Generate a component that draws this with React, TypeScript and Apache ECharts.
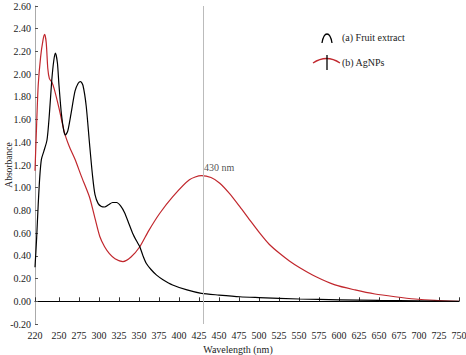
import React, { useEffect, useRef } from "react";
import * as echarts from "echarts";

// Fruit extract (black) : wavelength (nm), absorbance
const fruitWavelengths = [220, 222, 224, 226, 228, 231, 235, 238, 241, 243.5, 245.5, 248, 250, 253, 256, 258, 261, 265, 270, 274, 277, 280, 284, 288, 292, 295, 299, 303, 307, 312, 317, 322, 327, 332, 337, 342, 347, 351, 355, 359, 365, 372, 380, 392, 410, 428, 450, 476, 500, 550, 600, 650, 700, 750];
const fruitAbsorbance = [0.30, 0.55, 0.85, 1.10, 1.25, 1.32, 1.42, 1.65, 1.95, 2.12, 2.185, 2.10, 1.90, 1.65, 1.50, 1.465, 1.50, 1.65, 1.85, 1.92, 1.935, 1.90, 1.72, 1.40, 1.10, 0.94, 0.86, 0.835, 0.83, 0.85, 0.87, 0.87, 0.84, 0.78, 0.69, 0.60, 0.53, 0.48, 0.40, 0.335, 0.28, 0.23, 0.19, 0.144, 0.10, 0.07, 0.055, 0.04, 0.033, 0.02, 0.013, 0.008, 0.004, 0.0];

// AgNPs (red)
const agWavelengths = [220, 222, 224, 227, 230, 232, 234, 236, 238, 241, 244, 250, 257, 263, 270, 278, 288, 295, 301, 307, 313, 320, 330, 340, 351, 362, 376, 392, 413, 428, 440, 451, 463, 476, 488, 501, 513, 526, 538, 551, 570, 595, 620, 645, 670, 695, 720, 750];
const agAbsorbance = [1.15, 1.55, 1.90, 2.15, 2.30, 2.35, 2.28, 2.05, 1.96, 1.93, 1.87, 1.70, 1.48, 1.36, 1.25, 1.10, 0.92, 0.73, 0.57, 0.48, 0.42, 0.375, 0.35, 0.39, 0.48, 0.62, 0.775, 0.92, 1.07, 1.107, 1.09, 1.04, 0.95, 0.833, 0.72, 0.60, 0.50, 0.42, 0.355, 0.295, 0.22, 0.144, 0.10, 0.064, 0.04, 0.02, 0.008, 0.0];

const xTickLabels = [220, 250, 275, 300, 325, 350, 375, 400, 425, 450, 475, 500, 525, 550, 575, 600, 625, 650, 675, 700, 725, 750];
const peakWavelength = 430;
const peakLabel = "430 nm";
const legendNames = ["(a) Fruit extract", "(b) AgNPs"];
const yAxisName = "Absorbance";

const FONT = "'Liberation Serif', 'DejaVu Serif', serif";

export default function App() {
  const ref = useRef<HTMLDivElement>(null);
  useEffect(() => {
    if (!ref.current) return;
    const chart = echarts.init(ref.current, undefined, { renderer: "svg" });
    const zip = (xs: number[], ys: number[]) => xs.map((x, i) => [x, ys[i]]);
    chart.setOption({
      animation: false,
      grid: { left: 35, right: 7, top: 6, bottom: 31, containLabel: false, outerBoundsMode: "none" },
      xAxis: {
        type: "value",
        min: 220,
        max: 750,
        name: "Wavelength (nm)",
        nameLocation: "middle",
        nameGap: 17,
        nameTextStyle: { fontFamily: FONT, fontSize: 10, color: "#222", padding: [0, 18, 0, 0] },
        axisLine: { lineStyle: { color: "#000", width: 1 } },
        axisTick: { inside: true, length: 4, lineStyle: { color: "#333" }, customValues: xTickLabels },
        axisLabel: { fontFamily: FONT, fontSize: 10, color: "#222", margin: 6, customValues: xTickLabels },
        splitLine: { show: false },
      },
      yAxis: {
        type: "value",
        min: -0.2,
        max: 2.6,
        interval: 0.2,
        axisLine: { show: true, lineStyle: { color: "#aaa", width: 1 } },
        axisTick: { show: true, inside: true, length: 3, lineStyle: { color: "#555" } },
        axisLabel: {
          fontFamily: FONT,
          fontSize: 10,
          color: "#222",
          margin: 4,
          formatter: (v: number) => v.toFixed(2),
        },
        splitLine: { show: false },
      },
      series: [
        {
          name: legendNames[0],
          type: "line",
          data: zip(fruitWavelengths, fruitAbsorbance),
          showSymbol: false,
          smooth: 0.25,
          lineStyle: { color: "#000", width: 1.2 },
          z: 3,
        },
        {
          name: legendNames[1],
          type: "line",
          data: zip(agWavelengths, agAbsorbance),
          showSymbol: false,
          smooth: 0.25,
          lineStyle: { color: "#c1272d", width: 1.2 },
          z: 2,
          markLine: {
            silent: true,
            symbol: "none",
            label: { show: false },
            lineStyle: { color: "#bbb", width: 1, type: "solid" },
            data: [{ xAxis: peakWavelength }],
          },
        },
        {
          type: "scatter",
          data: [[peakWavelength, 1.175]],
          symbolSize: 0,
          silent: true,
          label: {
            show: true,
            position: "right",
            distance: 1,
            formatter: peakLabel,
            fontFamily: FONT,
            fontSize: 10,
            color: "#222",
          },
        },
      ],
      graphic: [
        {
          type: "text",
          x: 9,
          y: 165,
          rotation: Math.PI / 2,
          style: {
            text: yAxisName,
            fontFamily: FONT,
            fontSize: 9.5,
            fill: "#222",
            align: "center",
            verticalAlign: "middle",
          },
        },
        {
          type: "bezierCurve",
          shape: { x1: 322, y1: 43, cpx1: 324, cpy1: 31, cpx2: 330, cpy2: 31, x2: 332, y2: 43 },
          style: { stroke: "#000", lineWidth: 1.3, fill: null },
        },
        {
          type: "text",
          left: 342,
          top: 32,
          style: { text: legendNames[0], fontFamily: FONT, fontSize: 10, fill: "#222" },
        },
        {
          type: "bezierCurve",
          shape: { x1: 313, y1: 63, cpx1: 322, cpy1: 57, cpx2: 331, cpy2: 57, x2: 340, y2: 63 },
          style: { stroke: "#c1272d", lineWidth: 1.3, fill: null },
        },
        {
          type: "line",
          shape: { x1: 327, y1: 55, x2: 327, y2: 70 },
          style: { stroke: "#000", lineWidth: 1.3 },
        },
        {
          type: "text",
          left: 342,
          top: 57,
          style: { text: legendNames[1], fontFamily: FONT, fontSize: 10, fill: "#222" },
        },
      ],
    });
    return () => chart.dispose();
  }, []);
  return <div ref={ref} style={{ width: 466, height: 355, position: "absolute", left: 0, top: 0, background: "#fff" }} />;
}
